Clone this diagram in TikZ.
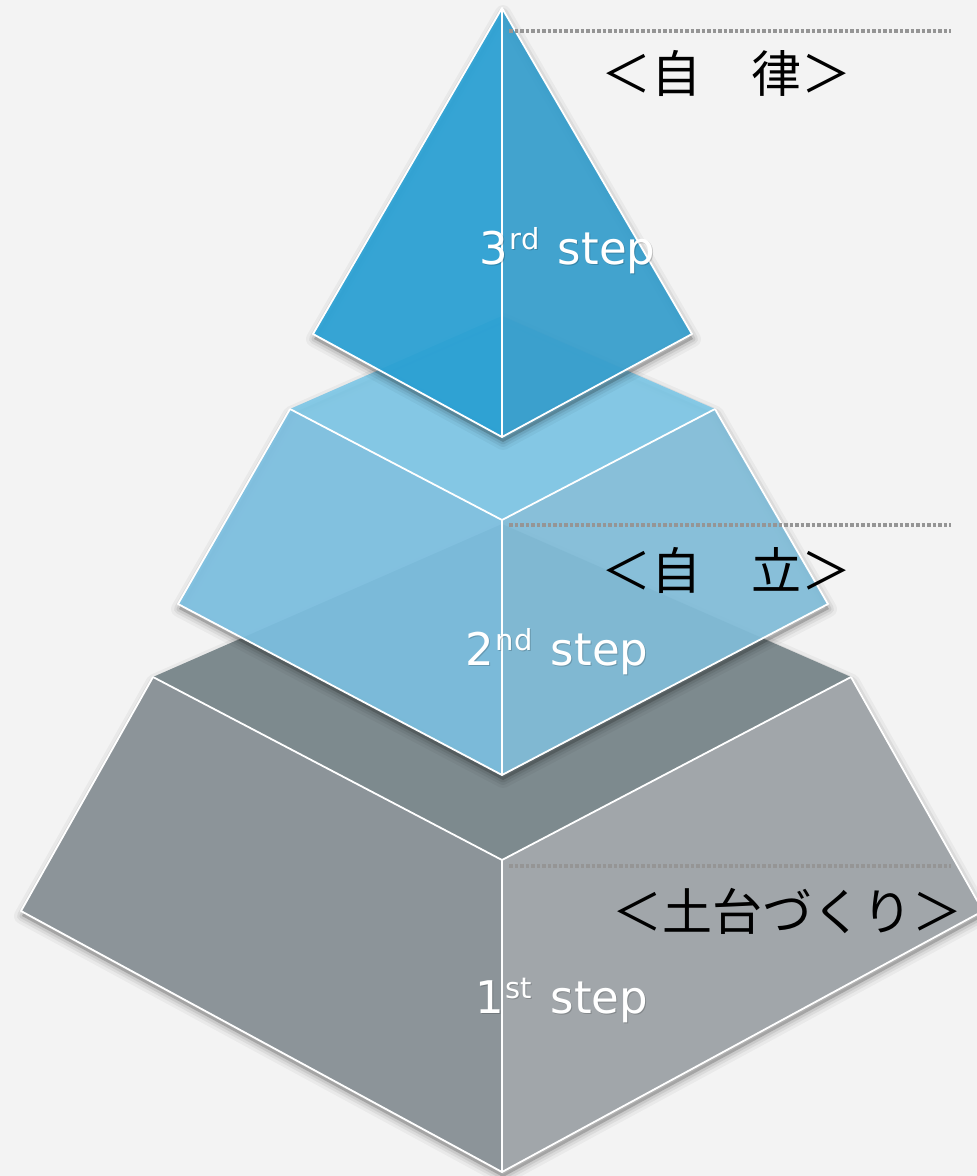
\documentclass[tikz,border=0pt]{standalone}
\usepackage{fontspec}
\newfontfamily\jpfont{Noto Sans CJK JP}
\newfontfamily\stepfont{DejaVu Sans}
\definecolor{bgc}{HTML}{F3F3F3}
\definecolor{topA}{HTML}{7D8A8E}
\definecolor{leftA}{HTML}{8C9499}
\definecolor{rightA}{HTML}{A1A6AA}
\definecolor{topB}{RGB}{127,200,231}
\definecolor{leftB}{RGB}{125,193,226}
\definecolor{rightB}{RGB}{131,191,219}
\definecolor{leftC}{RGB}{42,162,214}
\definecolor{rightC}{RGB}{55,160,207}
\definecolor{dotc}{HTML}{959595}
\def\tierone{(153,677) -- (502,524) -- (851,677) -- (983,911) -- (502,1172) -- (21,911)}
\def\tiertwo{(290,409) -- (502,316) -- (715,409) -- (828,604) -- (502,775) -- (178,604)}
\def\tierthree{(502,8) -- (692,334) -- (502,437) -- (313,334)}
\newcommand\castshadow[1]{%
  \begin{scope}[shift={(1,5)}]
    \fill[black,fill opacity=0.18] #1 -- cycle;
    \foreach \w/\o in {16/0.04,10/0.06,5/0.08}{%
      \draw[black,draw opacity=\o,line width=\w pt,line join=round] #1 -- cycle;}
  \end{scope}}
\tikzset{
  edge/.style={white,line width=1.8pt,line join=round},
  dotline/.style={dotc,line width=3.5pt,dash pattern=on 3.5pt off 2pt},
  tierb/.style={fill opacity=0.92},
  tierc/.style={fill opacity=0.92},
  jplabel/.style={font=\jpfont\fontsize{50}{50}\selectfont,text=black,inner sep=0pt,anchor=base},
  steplabel/.style={font=\stepfont\fontsize{45}{45}\selectfont,text=white,inner sep=0pt,anchor=base west},
  stepshadow/.style={font=\stepfont\fontsize{45}{45}\selectfont,text=black,text opacity=0.18,inner sep=0pt,anchor=base west}
}
\newcommand\ordsup[1]{\hspace{2pt}\raisebox{15pt}{\fontsize{29}{29}\selectfont #1}\hspace{4pt}}
\begin{document}
\begin{tikzpicture}[x=1pt,y=-1pt]
\useasboundingbox (0,0) rectangle (977,1176);
\fill[bgc] (0,0) rectangle (977,1176);
\clip (0,0) rectangle (977,1176);
% ---------- tier 1
\castshadow{\tierone}
\fill[topA] (153,677) -- (502,524) -- (851,677) -- (502,860) -- cycle;
\fill[leftA] (153,677) -- (502,860) -- (502,1172) -- (21,911) -- cycle;
\fill[rightA] (502,860) -- (851,677) -- (983,911) -- (502,1172) -- cycle;
\draw[edge] (153,677) -- (502,860) -- (851,677);
\draw[edge] (502,860) -- (502,1172);
\draw[edge] (153,677) -- (21,911) -- (502,1172) -- (983,911) -- (851,677);
% ---------- tier 2
\castshadow{\tiertwo}
\fill[topB,tierb] (290,409) -- (502,316) -- (715,409) -- (502,520) -- cycle;
\fill[leftB,tierb] (290,409) -- (502,520) -- (502,775) -- (178,604) -- cycle;
\fill[rightB,tierb] (502,520) -- (715,409) -- (828,604) -- (502,775) -- cycle;
\draw[edge] (290,409) -- (502,520) -- (715,409);
\draw[edge] (502,520) -- (502,775);
\draw[edge] (290,409) -- (178,604) -- (502,775) -- (828,604) -- (715,409);
% ---------- tier 3
\castshadow{\tierthree}
\fill[leftC,tierc] (502,8) -- (502,437) -- (313,334) -- cycle;
\fill[rightC,tierc] (502,8) -- (692,334) -- (502,437) -- cycle;
\draw[edge] (502,8) -- (502,437);
\draw[edge] (502,8) -- (692,334) -- (502,437) -- (313,334) -- cycle;
% ---------- dotted guide lines
\coordinate (g3a) at (509,31);  \coordinate (g3b) at (951,31);
\coordinate (g2a) at (509,525); \coordinate (g2b) at (951,525);
\coordinate (g1a) at (509,866); \coordinate (g1b) at (951,866);
\draw[dotline] (g3a) -- (g3b);
\draw[dotline] (g2a) -- (g2b);
\draw[dotline] (g1a) -- (g1b);
% ---------- labels
\node[jplabel] (jiritsu3) at (726.5,92) {＜自　律＞};
\node[jplabel] (jiritsu2) at (726.5,589) {＜自　立＞};
\node[jplabel] (dodai) at (787.5,930) {＜土台づくり＞};
\node[stepshadow] at (480,265.5) {3\ordsup{rd} step};
\node[steplabel] (s3) at (479,264) {3\ordsup{rd} step};
\node[stepshadow] at (466,666.5) {2\ordsup{nd} step};
\node[steplabel] (s2) at (465,665) {2\ordsup{nd} step};
\node[stepshadow] at (476,1014.5) {1\ordsup{st} step};
\node[steplabel] (s1) at (475,1013) {1\ordsup{st} step};
\end{tikzpicture}
\end{document}
